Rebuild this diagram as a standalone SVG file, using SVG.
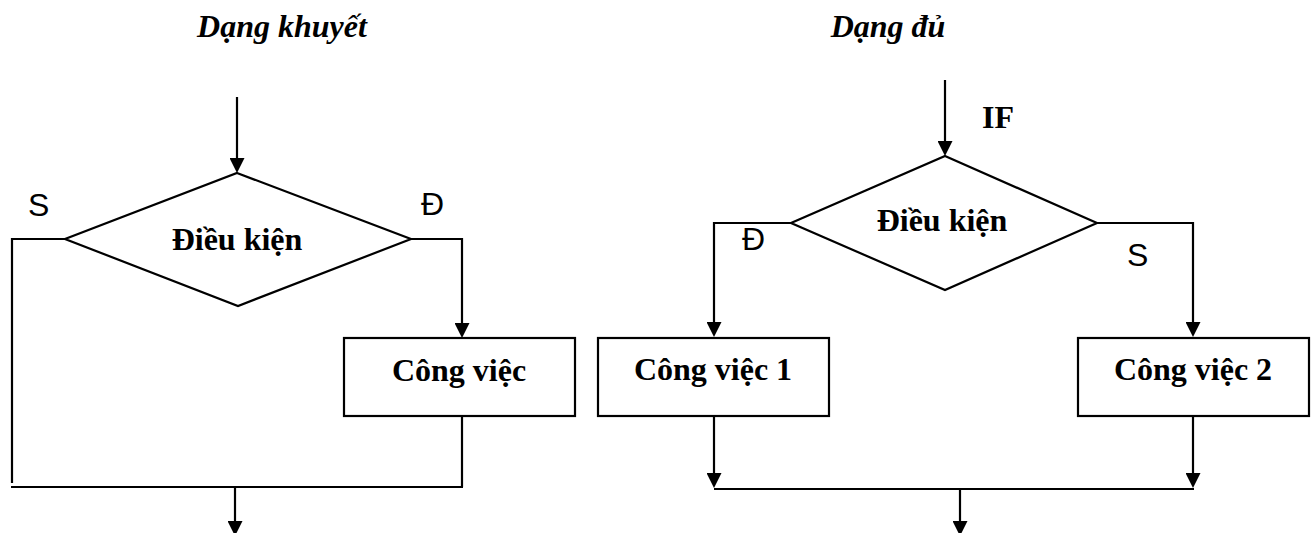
<svg xmlns="http://www.w3.org/2000/svg" width="1316" height="533" viewBox="0 0 1316 533">
<style>
.ln{fill:none;stroke:#000;stroke-width:2.2}
.arr{fill:none;stroke:#000;stroke-width:2.2;marker-end:url(#ah)}
.shape{fill:#fff;stroke:#000;stroke-width:2.2}
.title{font-family:"Liberation Serif","Times New Roman",serif;font-weight:bold;font-style:italic;font-size:32px;fill:#000}
.lbl{font-family:"Liberation Serif","Times New Roman",serif;font-weight:bold;font-size:32px;fill:#000}
.yn{font-family:"Liberation Sans",Arial,sans-serif;font-size:32px;fill:#000}
</style>
<defs>
<marker id="ah" viewBox="0 0 15 15" refX="11" refY="7.5" markerWidth="15" markerHeight="15" markerUnits="userSpaceOnUse" orient="auto">
<path d="M0,0 L15,7.5 L0,15 Z" fill="#000"/>
</marker>
</defs>
<text class="title" x="282" y="37" text-anchor="middle">Dạng khuyết</text>
<text class="title" x="888" y="37" text-anchor="middle">Dạng đủ</text>
<g id="connectors">
<line class="arr" x1="237" y1="97" x2="237" y2="169"/>
<polyline class="ln" points="65,239 12,239 12,483"/>
<polyline class="arr" points="411,239 462,239 462,334"/>
<line class="ln" x1="462" y1="416" x2="462" y2="487"/>
<line class="ln" x1="11" y1="487" x2="463" y2="487"/>
<line class="arr" x1="235" y1="487" x2="235" y2="532"/>
<line class="arr" x1="945" y1="80" x2="945" y2="152"/>
<polyline class="arr" points="791,223 714,223 714,333"/>
<polyline class="arr" points="1097,223 1193,223 1193,333"/>
<line class="arr" x1="714" y1="416" x2="714" y2="484"/>
<line class="arr" x1="1193" y1="416" x2="1193" y2="484"/>
<line class="ln" x1="714" y1="489" x2="1194" y2="489"/>
<line class="arr" x1="960" y1="489" x2="960" y2="532"/>
</g>
<g id="left-cond">
<polygon class="shape" points="237,173 411,239 238,306 65,239"/>
<text class="lbl" x="237" y="250" text-anchor="middle">Điều kiện</text>
</g>
<g id="left-task">
<rect class="shape" x="344" y="338" width="231" height="78"/>
<text class="lbl" x="459" y="381" text-anchor="middle">Công việc</text>
</g>
<g id="right-cond">
<polygon class="shape" points="945,156 1097,223 945,290 791,223"/>
<text class="lbl" x="942" y="231" text-anchor="middle">Điều kiện</text>
</g>
<g id="right-task1">
<rect class="shape" x="598" y="338" width="231" height="78"/>
<text class="lbl" x="713" y="380" text-anchor="middle">Công việc 1</text>
</g>
<g id="right-task2">
<rect class="shape" x="1078" y="338" width="231" height="78"/>
<text class="lbl" x="1193" y="380" text-anchor="middle">Công việc 2</text>
</g>
<g id="labels">
<text class="lbl" x="982" y="128">IF</text>
<text class="yn" x="28" y="216">S</text>
<text class="yn" x="421" y="215">Đ</text>
<text class="yn" x="742" y="250">Đ</text>
<text class="yn" x="1127" y="266">S</text>
</g>
</svg>
